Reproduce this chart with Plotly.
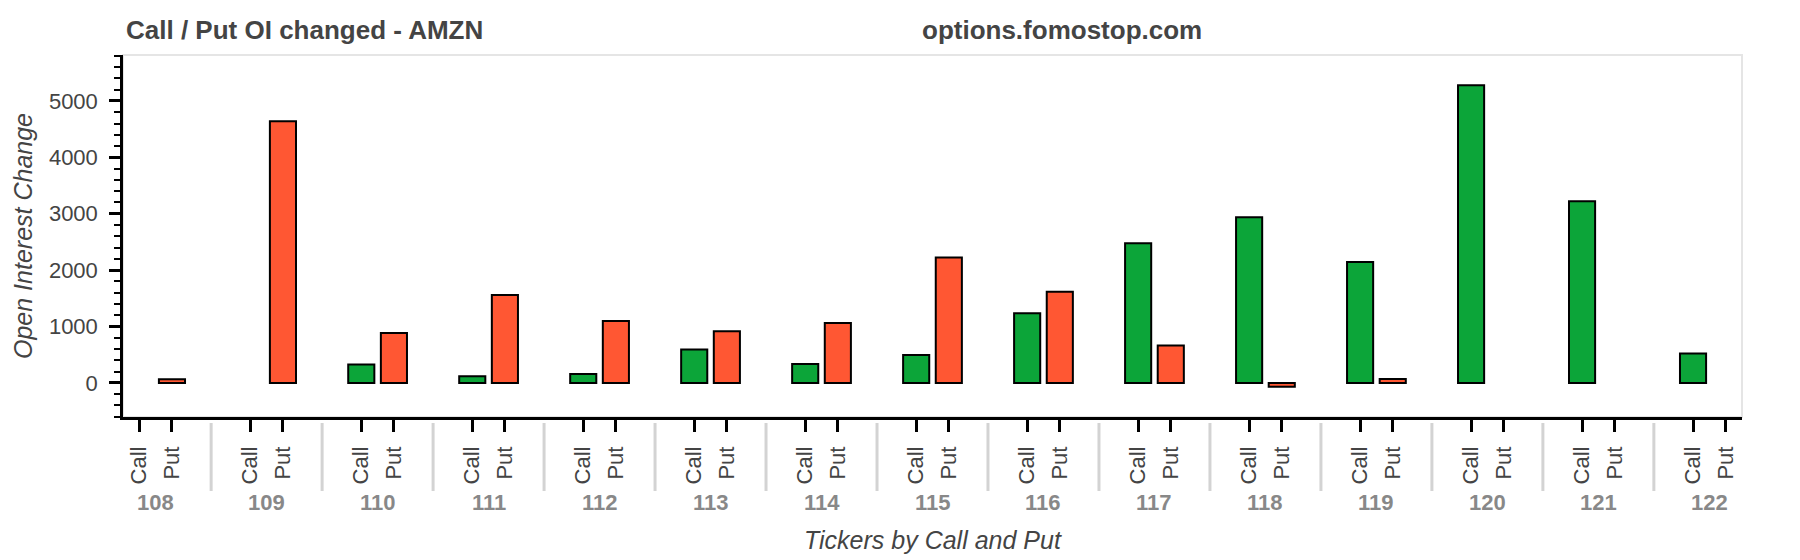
import plotly.graph_objects as go

# ---- data ----
strikes = ["108", "109", "110", "111", "112", "113", "114", "115",
           "116", "117", "118", "119", "120", "121", "122"]
sides = ["Call", "Put"]
call_oi = [None, None, 324, 118, 159, 590, 336, 496, 1233, 2478, 2938, 2142, 5280, 3221, 519]
put_oi = [65, 4640, 885, 1558, 1097, 914, 1062, 2224, 1617, 661, -70, 71, None, None, None]

# ---- nested factor layout (like a grouped categorical range) ----
GROUP_PAD = 1.4
PERIOD = len(sides) + GROUP_PAD


def factor_pos(g, f):
    return g * PERIOD + f + 0.5


x_call = [factor_pos(g, 0) for g in range(len(strikes))]
x_put = [factor_pos(g, 1) for g in range(len(strikes))]
x_end = len(strikes) * len(sides) + (len(strikes) - 1) * GROUP_PAD

GREEN = "#0CA539"
RED = "#FF5733"
FONT = "Liberation Sans, Arial, Helvetica, sans-serif"
TXT = "#444444"

W, H = 1800, 560
L, R, T, B = 123, 58, 55, 143
plot_h = H - T - B
plot_w = W - L - R


def py(px):  # pixel y (from top) -> paper y
    return (H - B - px) / plot_h


def pxx(px):  # pixel x -> paper x
    return (px - L) / plot_w


fig = go.Figure()
fig.add_trace(go.Bar(x=x_call, y=call_oi, width=0.8, name="Call",
                     marker=dict(color=GREEN, line=dict(color="black", width=2))))
fig.add_trace(go.Bar(x=x_put, y=put_oi, width=0.8, name="Put",
                     marker=dict(color=RED, line=dict(color="black", width=2))))

tickvals = []
ticktext = []
for g in range(len(strikes)):
    for f, s in enumerate(sides):
        tickvals.append(factor_pos(g, f))
        ticktext.append(s)

shapes = [dict(type="rect", xref="paper", yref="paper", x0=0, x1=1, y0=0, y1=1,
               line=dict(color="#e5e5e5", width=2), layer="below")]
for g in range(1, len(strikes)):
    xd = g * PERIOD - GROUP_PAD / 2
    shapes.append(dict(type="line", xref="x", yref="paper", x0=xd, x1=xd,
                       y0=py(423), y1=py(491), line=dict(color="#d3d3d3", width=3)))

annotations = []
for g, s in enumerate(strikes):
    annotations.append(dict(x=g * PERIOD + 1.0, y=py(502), xref="x", yref="paper",
                            text=s, showarrow=False, xanchor="center", yanchor="middle",
                            font=dict(family=FONT, size=22, color="#888888", weight="bold")))

annotations += [
    dict(x=pxx(124), y=py(30), xref="paper", yref="paper", text="Call / Put OI changed - AMZN",
         showarrow=False, xanchor="left", yanchor="middle",
         font=dict(family=FONT, size=26, color=TXT, weight="bold")),
    dict(x=pxx(1062), y=py(30), xref="paper", yref="paper", text="options.fomostop.com",
         showarrow=False, xanchor="center", yanchor="middle",
         font=dict(family=FONT, size=26, color=TXT, weight="bold")),
    dict(x=pxx(23), y=0.5, xref="paper", yref="paper", text="Open Interest Change",
         showarrow=False, xanchor="center", yanchor="middle", textangle=-90,
         font=dict(family=FONT, size=25, color=TXT, style="italic")),
    dict(x=0.5, y=py(540), xref="paper", yref="paper", text="Tickers by Call and Put",
         showarrow=False, xanchor="center", yanchor="middle",
         font=dict(family=FONT, size=25, color=TXT, style="italic")),
]

fig.update_layout(
    width=W, height=H, autosize=False,
    margin=dict(l=L, r=R, t=T, b=B, pad=0),
    paper_bgcolor="white", plot_bgcolor="white",
    barmode="overlay", showlegend=False,
    shapes=shapes, annotations=annotations,
    font=dict(family=FONT, color=TXT),
)
fig.update_xaxes(
    range=[0, x_end], tickmode="array", tickvals=tickvals, ticktext=ticktext,
    tickangle=-90, ticks="outside", ticklen=12, tickwidth=2.5, tickcolor="black",
    showline=True, linecolor="black", linewidth=2.5, showgrid=False, zeroline=False,
    tickfont=dict(family=FONT, size=22, color=TXT), ticklabelstandoff=6,
)
fig.update_yaxes(
    range=[-605, 5815], dtick=1000, tick0=0, ticks="outside", ticklen=11, tickwidth=2.5,
    tickcolor="black", showline=True, linecolor="black", linewidth=2.5,
    showgrid=False, zeroline=False,
    minor=dict(dtick=200, ticks="outside", ticklen=6, tickwidth=2, tickcolor="black", showgrid=False),
    tickfont=dict(family=FONT, size=22, color=TXT), ticklabelstandoff=7,
)

fig.write_html("out.html", config={"displayModeBar": False},
               post_script="document.body.style.margin='0';")
